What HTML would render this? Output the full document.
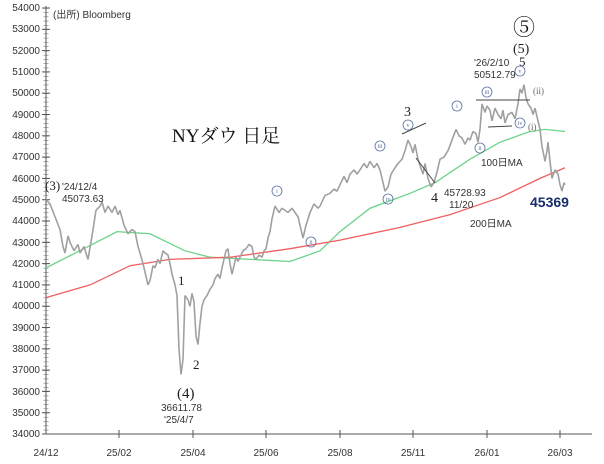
<!DOCTYPE html>
<html><head><meta charset="utf-8"><style>
body{margin:0;background:#fff;}
svg{display:block;font-family:"Liberation Sans","Noto Sans CJK JP",sans-serif;}
.t{font-size:10px;fill:#333;}
.s{font-family:"Liberation Serif","Noto Serif CJK SC",serif;}
</style></head><body>
<svg width="604" height="464" viewBox="0 0 604 464">
<rect width="604" height="464" fill="#fff"/>
<line x1="46" y1="6" x2="46" y2="434" stroke="#555"/>
<line x1="46" y1="434" x2="592" y2="434" stroke="#555"/>
<path d="M46 8V434" stroke="#777" stroke-width="5" stroke-dasharray="0.6 3.66" fill="none"/>
<g stroke="#555">
<line x1="42" y1="8" x2="50" y2="8"/><line x1="42" y1="29.3" x2="50" y2="29.3"/><line x1="42" y1="50.6" x2="50" y2="50.6"/><line x1="42" y1="71.9" x2="50" y2="71.9"/><line x1="42" y1="93.2" x2="50" y2="93.2"/><line x1="42" y1="114.5" x2="50" y2="114.5"/><line x1="42" y1="135.8" x2="50" y2="135.8"/><line x1="42" y1="157.1" x2="50" y2="157.1"/><line x1="42" y1="178.4" x2="50" y2="178.4"/><line x1="42" y1="199.7" x2="50" y2="199.7"/><line x1="42" y1="221" x2="50" y2="221"/><line x1="42" y1="242.3" x2="50" y2="242.3"/><line x1="42" y1="263.6" x2="50" y2="263.6"/><line x1="42" y1="284.9" x2="50" y2="284.9"/><line x1="42" y1="306.2" x2="50" y2="306.2"/><line x1="42" y1="327.5" x2="50" y2="327.5"/><line x1="42" y1="348.8" x2="50" y2="348.8"/><line x1="42" y1="370.1" x2="50" y2="370.1"/><line x1="42" y1="391.4" x2="50" y2="391.4"/><line x1="42" y1="412.7" x2="50" y2="412.7"/><line x1="42" y1="434" x2="50" y2="434"/>
<line x1="119" y1="430" x2="119" y2="438"/><line x1="193" y1="430" x2="193" y2="438"/><line x1="266" y1="430" x2="266" y2="438"/><line x1="340" y1="430" x2="340" y2="438"/><line x1="413" y1="430" x2="413" y2="438"/><line x1="487" y1="430" x2="487" y2="438"/><line x1="560" y1="430" x2="560" y2="438"/>
</g>
<g class="t" text-anchor="end">
<text x="40" y="11">54000</text><text x="40" y="32">53000</text><text x="40" y="54">52000</text><text x="40" y="75">51000</text><text x="40" y="96">50000</text><text x="40" y="118">49000</text><text x="40" y="139">48000</text><text x="40" y="160">47000</text><text x="40" y="182">46000</text><text x="40" y="203">45000</text><text x="40" y="224">44000</text><text x="40" y="246">43000</text><text x="40" y="267">42000</text><text x="40" y="288">41000</text><text x="40" y="309">40000</text><text x="40" y="331">39000</text><text x="40" y="352">38000</text><text x="40" y="373">37000</text><text x="40" y="395">36000</text><text x="40" y="416">35000</text><text x="40" y="437">34000</text>
</g>
<g class="t" text-anchor="middle">
<text x="46" y="456">24/12</text><text x="119" y="456">25/02</text><text x="193" y="456">25/04</text><text x="266" y="456">25/06</text><text x="340" y="456">25/08</text><text x="413" y="456">25/11</text><text x="487" y="456">26/01</text><text x="560" y="456">26/03</text>
</g>
<g transform="matrix(1 0 0 -0.0213 0 1158.2)" fill="none">
<polyline vector-effect="non-scaling-stroke" stroke="#6cd38a" stroke-width="1.3" points="46,41800 88,42800 117,43500 150,43400 185,42600 210,42300 250,42200 290,42100 320,42600 340,43500 370,44600 410,45300 435,45800 470,46900 500,47700 530,48200 545,48300 565,48200"/>
<polyline vector-effect="non-scaling-stroke" stroke="#f06060" stroke-width="1.3" points="46,40400 90,41000 130,41900 170,42200 230,42300 290,42700 340,43100 400,43700 450,44300 500,45100 540,46000 565,46500"/>
<polyline vector-effect="non-scaling-stroke" stroke="#a0a0a0" stroke-width="1.6" stroke-linejoin="bevel" points="46,45000 50,44800 55,44200 60,43600 63,42800 65,42500 68,43300 70,43000 74,42600 78,42900 80,42500 84,42800 88,42200 92,43300 96,44500 100,44700 102,44900 105,44400 108,44700 112,44400 115,44700 118,44300 120,44500 124,43800 128,43400 132,43600 135,43500 138,42800 140,42500 143,42000 145,41600 148,41000 150,41200 153,41900 155,41800 158,42200 160,42000 163,42600 165,42500 168,42400 170,42000 172,41500 175,41000 177,40500 179,38000 181,36800 183,37500 185,40500 188,40300 190,40000 192,40600 194,40200 196,38600 198,38200 200,39200 202,40000 204,40300 207,40500 210,40800 213,41000 215,41300 218,41500 220,41300 222,41800 224,42200 226,42600 228,42700 230,42000 232,41500 234,41900 236,42300 238,42100 240,42300 243,42600 246,42700 249,42900 252,42800 254,42300 256,42200 259,42400 262,42300 264,42600 266,42700 268,43200 270,43500 272,44100 275,44700 279,44400 282,44600 285,44500 288,44400 292,44600 295,44400 298,44200 301,43600 303,43200 306,43800 310,44400 314,44800 318,44600 320,44700 325,45200 330,45300 334,45500 337,45400 340,45700 344,46100 347,45800 350,46200 354,46400 357,46200 360,46400 364,46700 367,46500 370,46800 374,46500 377,46700 380,46400 383,45800 385,45400 388,45600 391,46200 395,46500 398,46700 402,46900 405,47300 408,47800 411,47500 413,47200 415,47600 418,46900 420,46600 423,46200 425,46700 428,46000 431,45600 434,45800 437,46300 440,46900 444,47000 448,47300 452,47800 456,48300 459,48000 462,47900 465,47600 468,47900 470,47800 473,48200 476,48100 478,47700 480,48300 482,49500 485,49100 487,49400 490,49200 492,48700 495,49300 498,49000 501,48800 503,49200 505,48600 508,49000 512,49100 515,48800 518,49500 520,50200 522,50000 524,50400 526,49800 528,49500 531,49300 533,49000 535,49300 538,48700 540,48300 542,47500 545,46800 547,47300 548,47700 550,46800 552,46000 555,46400 558,46200 560,45700 562,45400 564,45800 565,45700"/>
</g>
<g stroke="#444" stroke-width="1">
<line x1="476" y1="100" x2="530" y2="100"/><line x1="488" y1="127" x2="512" y2="126"/>
<line x1="402" y1="134" x2="426" y2="123"/><line x1="416" y1="158" x2="435" y2="183"/>
</g>
<text x="53" y="18" class="t" font-size="9">(出所) Bloomberg</text>
<text x="172" y="142" class="s" font-size="19" fill="#111">NYダウ 日足</text>
<text x="45" y="190" class="s" font-size="13" fill="#222">(3)</text>
<text x="62" y="190" class="t" font-size="9">'24/12/4</text>
<text x="62" y="202" class="t" font-size="9">45073.63</text>
<text x="178" y="285" class="s" font-size="13" fill="#222">1</text>
<text x="193" y="369" class="s" font-size="13" fill="#222">2</text>
<text x="177" y="398" class="s" font-size="15" fill="#222">(4)</text>
<text x="161" y="411" class="t" font-size="9">36611.78</text>
<text x="164" y="423" class="t" font-size="9">'25/4/7</text>
<text x="404" y="116" class="s" font-size="14" fill="#222">3</text>
<text x="431" y="202" class="s" font-size="14" fill="#222">4</text>
<text x="444" y="196" class="t" font-size="9">45728.93</text>
<text x="449" y="208" class="t" font-size="9">11/20</text>
<text x="481" y="166" class="t" font-size="9" fill="#3bb55f">100日MA</text>
<text x="470" y="227" class="t" font-size="9" fill="#e44">200日MA</text>
<text x="530" y="207" font-size="14" font-weight="bold" fill="#1a2d6b">45369</text>
<text x="474" y="66" class="t" font-size="9" fill="#d33">'26/2/10</text>
<text x="474" y="78" class="t" font-size="9" fill="#d33">50512.79</text>
<text x="513" y="35" class="s" font-size="22" fill="#111">⑤</text>
<text x="513" y="53" class="s" font-size="14" fill="#222">(5)</text>
<text x="519" y="66" class="s" font-size="13" fill="#222">5</text>
<text x="533" y="94" class="s" font-size="9" fill="#666">(ii)</text>
<text x="528" y="130" class="s" font-size="9" fill="#666">(i)</text>
<g fill="none" stroke="#5a6fa0" stroke-width="0.8">
<circle cx="277" cy="191" r="5"/><circle cx="311" cy="242" r="5"/><circle cx="380" cy="146" r="5"/><circle cx="388" cy="199" r="5"/><circle cx="408" cy="125" r="5"/><circle cx="457" cy="106" r="5"/><circle cx="480" cy="148" r="5"/><circle cx="487" cy="92" r="5"/><circle cx="520" cy="71" r="5"/><circle cx="520" cy="123" r="5"/>
</g>
<g font-size="6" fill="#5a6fa0" text-anchor="middle" class="s">
<text x="277" y="193">i</text><text x="311" y="244">ii</text><text x="380" y="148">iii</text><text x="388" y="201">iv</text><text x="408" y="127">v</text><text x="457" y="108">i</text><text x="480" y="150">ii</text><text x="487" y="94">iii</text><text x="520" y="73">v</text><text x="520" y="125">iv</text>
</g>
</svg>
</body></html>
